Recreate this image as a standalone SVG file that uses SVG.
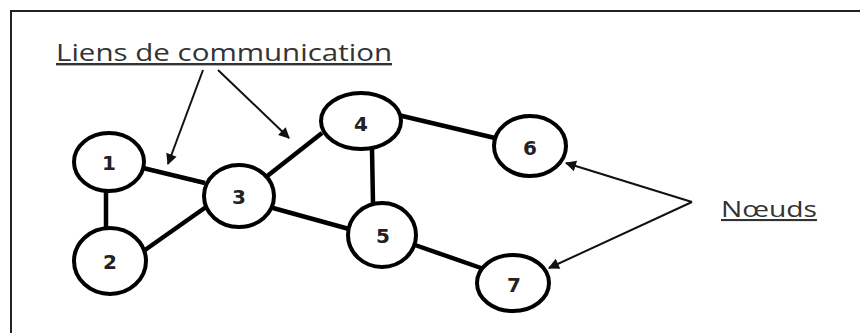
<svg xmlns="http://www.w3.org/2000/svg" width="860" height="333" viewBox="0 0 860 333">
  <style>
    .node ellipse { fill: #fff; stroke: #000; stroke-width: 4; }
    .node text { font-family: "DejaVu Sans", sans-serif; font-weight: bold; font-size: 20px; fill: #222; text-anchor: middle; }
    .edge { stroke: #000; stroke-width: 4.5; fill: none; }
    .arrow { stroke: #111; stroke-width: 2; fill: none; marker-end: url(#head); }
    .label { font-family: "Open Sans", "Liberation Sans", sans-serif; fill: #333; text-decoration: underline; }
  </style>
  <defs>
    <marker id="head" viewBox="0 0 10 10" refX="9" refY="5" markerWidth="13" markerHeight="11" markerUnits="userSpaceOnUse" orient="auto">
      <path d="M0,0 L10,5 L0,10 z" fill="#111"/>
    </marker>
  </defs>
  <rect width="860" height="333" fill="#fff"/>
  <!-- frame: top and left rules only -->
  <path d="M11,333 V11 H860" stroke="#222" stroke-width="2" fill="none"/>

  <g id="connectors">
    <line class="edge" x1="106" y1="190" x2="106" y2="230"/>
    <line class="edge" x1="143" y1="168" x2="205" y2="183"/>
    <line class="edge" x1="145" y1="250" x2="206" y2="207"/>
    <line class="edge" x1="266" y1="177" x2="322" y2="133"/>
    <line class="edge" x1="372" y1="148" x2="373" y2="204"/>
    <line class="edge" x1="273" y1="208" x2="349" y2="229"/>
    <line class="edge" x1="398" y1="115" x2="495" y2="138"/>
    <line class="edge" x1="415" y1="245" x2="481" y2="268"/>
    <!-- annotation arrows -->
    <line class="arrow" x1="203" y1="70" x2="168" y2="164"/>
    <line class="arrow" x1="218" y1="70" x2="289" y2="138"/>
    <line class="arrow" x1="692" y1="202" x2="566" y2="163"/>
    <line class="arrow" x1="692" y1="202" x2="549" y2="268"/>
  </g>

  <g id="node1" class="node"><ellipse cx="109" cy="162" rx="35" ry="29"/><text x="109" y="170">1</text></g>
  <g id="node2" class="node"><ellipse cx="110" cy="261" rx="36" ry="33"/><text x="110" y="269">2</text></g>
  <g id="node3" class="node"><ellipse cx="239" cy="196" rx="35" ry="31"/><text x="239" y="204">3</text></g>
  <g id="node4" class="node"><ellipse cx="361" cy="121" rx="40" ry="28"/><text x="361" y="131">4</text></g>
  <g id="node5" class="node"><ellipse cx="382" cy="235" rx="34" ry="32"/><text x="383" y="243">5</text></g>
  <g id="node6" class="node"><ellipse cx="530" cy="146" rx="36" ry="30"/><text x="530" y="155">6</text></g>
  <g id="node7" class="node"><ellipse cx="513" cy="283" rx="36" ry="28"/><text x="514" y="292">7</text></g>

  <g id="labels">
    <text class="label" x="56" y="61" font-size="24" textLength="336" lengthAdjust="spacingAndGlyphs">Liens de communication</text>
    <text class="label" x="721" y="217" font-size="21" textLength="96" lengthAdjust="spacingAndGlyphs">Nœuds</text>
  </g>
</svg>
